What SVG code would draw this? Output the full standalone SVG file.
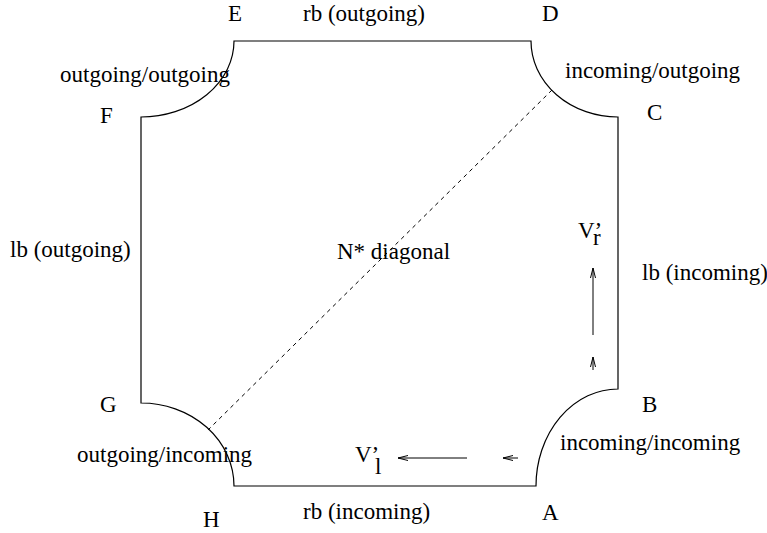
<svg xmlns="http://www.w3.org/2000/svg" width="767" height="533" viewBox="0 0 767 533">
<style>
text{font-family:"Liberation Serif","Times New Roman",serif;font-size:23px;fill:#000}
.edge{fill:none;stroke:#000;stroke-width:1.2}
.diag{fill:none;stroke:#000;stroke-width:1;stroke-dasharray:4 4}
.arr{fill:none;stroke:#000;stroke-width:1;marker-end:url(#ah)}
</style>
<defs>
<marker id="ah" viewBox="0 0 10 6" refX="10" refY="3" markerWidth="10" markerHeight="6" markerUnits="userSpaceOnUse" orient="auto">
<path d="M0,0.5 L10,3 L0,5.5" fill="none" stroke="#000" stroke-width="1"/>
</marker>
</defs>
<g id="region">
<path class="edge" d="M234 41 L531 41 A87 76 0 0 0 618 117 L618 389 A82 97 0 0 0 536 486 L234 486 A93 83 0 0 0 141 403 L141 117 A93 76 0 0 0 234 41 Z"/>
</g>
<g id="connectors">
<line class="diag" x1="552" y1="90" x2="208" y2="430"/>
<line class="arr" x1="593" y1="335" x2="593" y2="268"/>
<line class="arr" x1="593" y1="370" x2="593" y2="357"/>
<line class="arr" x1="467" y1="458" x2="398" y2="458"/>
<line class="arr" x1="518" y1="458" x2="503" y2="458"/>
</g>
<g id="labels">
<text x="228" y="21">E</text>
<text x="303" y="21">rb (outgoing)</text>
<text x="542" y="21">D</text>
<text x="60" y="82">outgoing/outgoing</text>
<text x="565" y="78">incoming/outgoing</text>
<text x="100" y="123">F</text>
<text x="647" y="120">C</text>
<text x="10" y="257">lb (outgoing)</text>
<text x="337" y="259">N* diagonal</text>
<text x="642" y="280">lb (incoming)</text>
<text x="100" y="412">G</text>
<text x="642" y="412">B</text>
<text x="77" y="462">outgoing/incoming</text>
<text x="560" y="450">incoming/incoming</text>
<text x="203" y="527">H</text>
<text x="303" y="519">rb (incoming)</text>
<text x="542" y="520">A</text>
</g>
<g id="vr">
<text x="578" y="238">V’<tspan x="593" y="245">r</tspan></text>
</g>
<g id="vl">
<text x="355" y="462">V’<tspan x="375" y="474">l</tspan></text>
</g>
</svg>
